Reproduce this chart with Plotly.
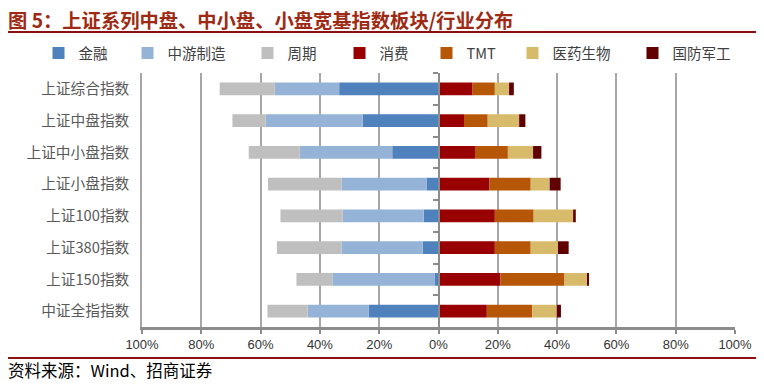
import plotly.graph_objects as go

categories = ["上证综合指数", "上证中盘指数", "上证中小盘指数", "上证小盘指数",
              "上证100指数", "上证380指数", "上证150指数", "中证全指指数"]

# left side (drawn as negative)
jinrong = [33.5, 25.6, 15.6, 3.9, 5.0, 5.3, 1.2, 23.5]
zhongyou = [21.7, 32.7, 31.2, 28.8, 27.3, 27.4, 34.6, 20.6]
zhouqi = [18.6, 11.2, 17.2, 24.8, 21.0, 21.8, 12.1, 13.6]
# right side
xiaofei = [11.5, 8.6, 12.3, 17.1, 19.0, 19.0, 20.9, 16.3]
tmt = [7.5, 8.0, 11.1, 14.0, 13.1, 12.1, 21.6, 15.3]
yiyao = [4.8, 10.6, 8.5, 6.4, 13.3, 9.2, 7.9, 8.3]
guofang = [1.6, 2.1, 2.8, 3.7, 0.9, 3.6, 0.2, 1.4]

tick_vals = [-100, -80, -60, -40, -20, 0, 20, 40, 60, 80, 100]
tick_text = [f"{abs(v)}%" for v in tick_vals]

series = [
    ("金融", jinrong, -1, "#4F81BD"),
    ("中游制造", zhongyou, -1, "#95B3D7"),
    ("周期", zhouqi, -1, "#BFBFBF"),
    ("消费", xiaofei, 1, "#990000"),
    ("TMT", tmt, 1, "#B65708"),
    ("医药生物", yiyao, 1, "#D8BB6A"),
    ("国防军工", guofang, 1, "#600000"),
]

# legend square centres in the reference (window px)
legend_centres = [63.5, 152.5, 272.5, 364.5, 451.5, 537.5, 657.5]

OFF = 8  # page body margin offset
W, H = 764 - OFF, 385 - OFF
L, R, T, B = 142 - OFF, 29, 73 - OFF, 58
pw, ph = W - L - R, H - T - B

def px_x(X):
    return (X - OFF - L) / pw

def px_y(Y):
    return (H - B - (Y - OFF)) / ph

font_cjk = "Noto Sans CJK SC, Liberation Sans, sans-serif"

fig = go.Figure()
legend_layouts = {}
for i, (name, vals, sign, color) in enumerate(series):
    key = "legend" if i == 0 else f"legend{i + 1}"
    fig.add_trace(go.Bar(
        y=categories, x=[sign * v for v in vals], name=name,
        orientation="h", marker=dict(color=color, line=dict(width=0)),
        hoverinfo="skip", legend=key,
    ))
    legend_layouts[key] = dict(
        orientation="h", xref="container", yref="container",
        x=(legend_centres[i] - OFF - 4 - 21) / W, y=1 - (53 - OFF) / H,
        xanchor="left", yanchor="middle",
        font=dict(size=14.5, color="#404040", family=font_cjk),
        bgcolor="rgba(0,0,0,0)", borderwidth=0,
    )

# invisible trace to carry the centre category axis
fig.add_trace(go.Scatter(x=[0] * len(categories), y=categories, mode="none",
                         yaxis="y2", showlegend=False, hoverinfo="skip"))

fig.update_layout(
    width=W, height=H,
    margin=dict(l=L, r=R, t=T, b=B, autoexpand=False),
    paper_bgcolor="white", plot_bgcolor="white",
    barmode="relative", bargap=0.6,
    font=dict(family=font_cjk, color="#404040"),
    showlegend=True,
    xaxis=dict(range=[-100, 100], tickvals=tick_vals, ticktext=tick_text,
               showgrid=True, gridcolor="#A6A6A6", gridwidth=1.5,
               zeroline=False, showline=True, linecolor="#8C8C8C", linewidth=2.5,
               ticks="outside", ticklen=4, tickcolor="#8C8C8C", tickwidth=1.5,
               tickfont=dict(size=13, color="#333333", family="Liberation Sans, sans-serif"),
               fixedrange=True),
    yaxis=dict(type="category", categoryorder="array", categoryarray=categories,
               range=[len(categories) - 0.5, -0.5],
               showline=True, linecolor="#A6A6A6", linewidth=1.5, ticks="",
               showgrid=False, zeroline=False, ticklabelstandoff=8,
               tickfont=dict(size=14.7, color="#595959", family=font_cjk)),
    yaxis2=dict(type="category", categoryorder="array", categoryarray=categories,
                range=[len(categories) - 0.5, -0.5], overlaying="y",
                anchor="free", position=0.5, side="left",
                showline=True, linecolor="#8C8C8C", linewidth=1.5,
                ticks="outside", tickson="boundaries", ticklen=5,
                tickcolor="#8C8C8C", tickwidth=1.5,
                showticklabels=False, showgrid=False, zeroline=False),
    **legend_layouts,
)

line_color = "#8C1010"
fig.add_shape(type="line", xref="paper", yref="paper",
              x0=px_x(5), x1=px_x(760), y0=px_y(32), y1=px_y(32),
              line=dict(color=line_color, width=2))
fig.add_shape(type="line", xref="paper", yref="paper",
              x0=px_x(5), x1=px_x(760), y0=px_y(358), y1=px_y(358),
              line=dict(color=line_color, width=2))

fig.add_annotation(text="<b>图 5：上证系列中盘、中小盘、小盘宽基指数板块/行业分布</b>",
                   xref="paper", yref="paper", x=px_x(7), y=px_y(20.5),
                   xanchor="left", yanchor="middle", showarrow=False, borderpad=0,
                   font=dict(size=19.3, color="#9E2A14", family=font_cjk))
fig.add_annotation(text="资料来源：Wind、招商证券",
                   xref="paper", yref="paper", x=px_x(6), y=px_y(370),
                   xanchor="left", yanchor="middle", showarrow=False,
                   font=dict(size=16.5, color="#000000", family=font_cjk))

fig.write_html("out.html")
